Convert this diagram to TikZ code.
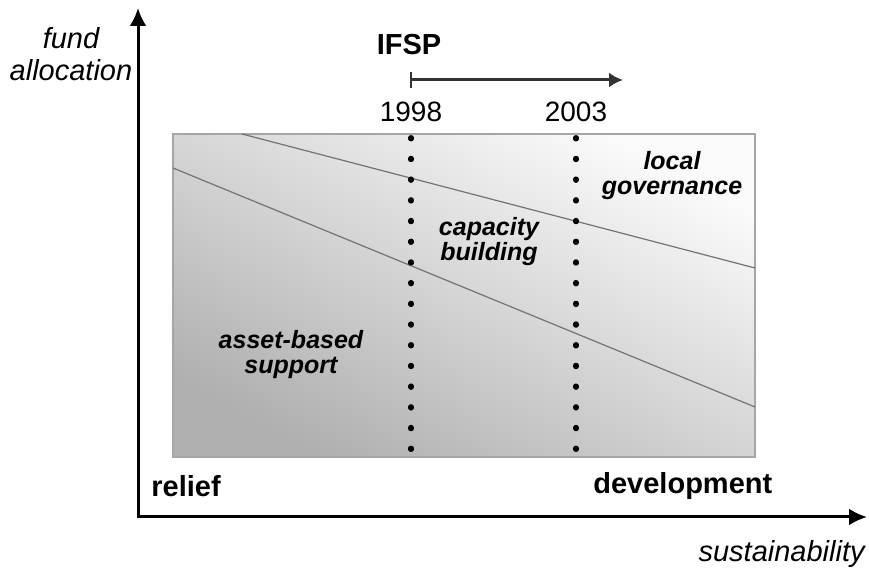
\documentclass[tikz,border=0pt]{standalone}
\usepackage{fontspec}
\setmainfont{Liberation Sans}
\usepackage{tikz}
\usetikzlibrary{arrows.meta}
\tikzstyle{axis}   = [line width=1.5pt,{Latex[length=9pt,width=8.5pt]}-{Latex[length=9pt,width=8.5pt]}]
\tikzstyle{period} = [line width=1.5pt,draw=black!80,{Bar[width=8pt,line width=1pt]}-{Latex[length=7pt,width=7.5pt]}]
\tikzstyle{yearline} = [dash pattern=on 0.6pt off 9.75pt,line cap=round,line width=2.6pt]
\tikzstyle{trend}  = [line width=0.6pt,black!55]
\tikzstyle{phase}  = [font=\fontsize{12.5}{12.5}\selectfont\bfseries\itshape,align=center,inner sep=0pt]
\tikzstyle{outer}  = [font=\fontsize{14.5}{16}\selectfont\bfseries,inner sep=0pt]
\tikzstyle{axislabel} = [font=\fontsize{14.5}{16}\selectfont\itshape,align=center,inner sep=0pt]
\tikzstyle{year}   = [font=\fontsize{14}{16}\selectfont,inner sep=0pt,anchor=base]

\begin{document}
\begin{tikzpicture}[x=0.5pt,y=-0.5pt]
  \useasboundingbox (0,0) rectangle (869,571);

  % phases
  \coordinate (nw) at (173,134);
  \coordinate (se) at (755,457);
  \shade[top color=black!2,bottom color=black!31,shading angle=-28] (nw) rectangle (se);
  \draw[black!35,line width=0.8pt] (nw) rectangle (se);
  \coordinate (a1) at (242,134);
  \coordinate (a2) at (755,268);
  \coordinate (b1) at (173,168);
  \coordinate (b2) at (755,407);
  \draw[trend] (a1) -- (a2) (b1) -- (b2);
  \node[phase] (asset) at (291,355) {asset-based\\support};
  \node[phase] (capacity) at (489,242) {capacity\\building};
  \node[phase] (local) at (672,176) {local\\governance};

  % programme period
  \node[outer,anchor=base] (ifsp) at (409,55) {IFSP};
  \coordinate (pstart) at (410,80);
  \coordinate (pend) at (623,80);
  \draw[period] (pstart) -- (pend);
  \node[year] (y1998) at (411,122) {1998};
  \node[year] (y2003) at (576,122) {2003};
  \draw[yearline] ([yshift=-7.5pt]y1998.south) -- (y1998 |- se);
  \draw[yearline] ([yshift=-7.5pt]y2003.south) -- (y2003 |- se);

  % axes
  \coordinate (o) at (138,517);
  \coordinate (ytip) at (138,8);
  \coordinate (xtip) at (867,517);
  \draw[axis] (ytip) -- (o) -- (xtip);
  \node[axislabel] (fund) at (71,54) {fund\\allocation};
  \node[axislabel,anchor=base east] (sust) at (865,562) {sustainability};
  \node[outer,anchor=base west] (relief) at (151,497) {relief};
  \node[outer,anchor=base west] (devel) at (593,494) {development};
\end{tikzpicture}
\end{document}
